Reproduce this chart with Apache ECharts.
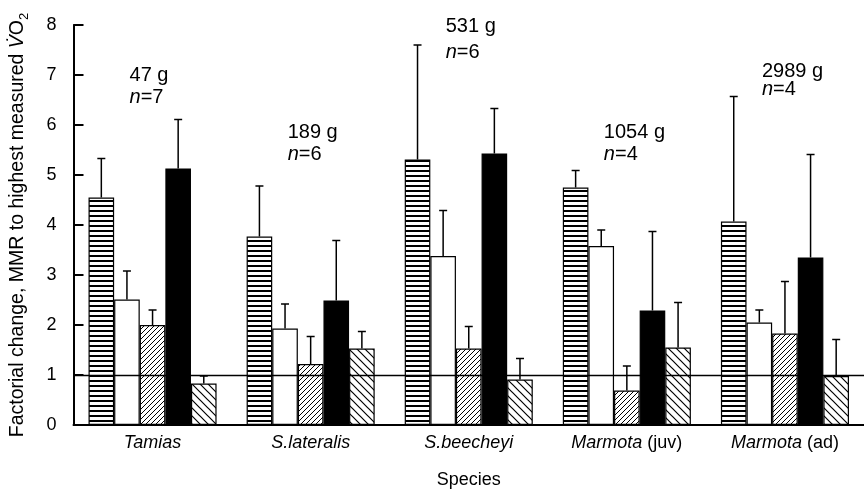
<!DOCTYPE html>
<html><head><meta charset="utf-8">
<script src="https://cdn.jsdelivr.net/npm/echarts@6/dist/echarts.min.js"></script>
<style>html,body{margin:0;padding:0;background:#fff}#c{width:864px;height:496px}</style>
</head><body><div id="c"></div><script>
// ---- data ----
const categories = ['Tamias', 'S.lateralis', 'S.beecheyi', 'Marmota (juv)', 'Marmota (ad)'];
const categoryLabels = ['{i|Tamias}', '{i|S.lateralis}', '{i|S.beecheyi}', '{i|Marmota} (juv)', '{i|Marmota} (ad)'];
const massLabels = ['47 g', '189 g', '531 g', '1054 g', '2989 g'];
const nLabels = ['7', '6', '6', '4', '4'];
const massLabelY = [7.0, 5.85, 7.97, 5.85, 7.08];
const nLabelY = [6.56, 5.42, 7.46, 5.42, 6.72];
const yTicks = [0, 1, 2, 3, 4, 5, 6, 7, 8];

const stripedMean = [4.55, 3.77, 5.31, 4.75, 4.07];
const stripedTop  = [5.33, 4.78, 7.60, 5.09, 6.57];
const whiteMean   = [2.51, 1.93, 3.38, 3.58, 2.05];
const whiteTop    = [3.08, 2.42, 4.29, 3.90, 2.30];
const slashMean   = [2.00, 1.22, 1.53, 0.69, 1.83];
const slashTop    = [2.30, 1.77, 1.97, 1.18, 2.87];
const blackMean   = [5.13, 2.49, 5.43, 2.29, 3.35];
const blackTop    = [6.11, 3.69, 6.33, 3.87, 5.41];
const bslashMean  = [0.83, 1.53, 0.91, 1.55, 0.98];
const bslashTop   = [0.98, 1.87, 1.33, 2.45, 1.71];
const referenceLevel = 1;

// ---- patterns ----
function tile(w, h, draw) {
  const c = document.createElement('canvas');
  c.width = w; c.height = h;
  const g = c.getContext('2d');
  g.fillStyle = '#fff'; g.fillRect(0, 0, w, h);
  draw(g, w, h);
  return { image: c, repeat: 'repeat' };
}
const hStripe = tile(4, 5, (g, w) => { g.fillStyle = '#000'; g.fillRect(0, 0, w, 2); });
const fSlash = tile(5, 5, (g, w, h) => {
  g.strokeStyle = '#000'; g.lineWidth = 1;
  g.beginPath();
  g.moveTo(0, h); g.lineTo(w, 0);
  g.moveTo(-1, 1); g.lineTo(1, -1);
  g.moveTo(w - 1, h + 1); g.lineTo(w + 1, h - 1);
  g.stroke();
});
const bSlash = tile(8, 8, (g, w, h) => {
  g.strokeStyle = '#000'; g.lineWidth = 1.2;
  g.beginPath();
  g.moveTo(0, 0); g.lineTo(w, h);
  g.moveTo(-1, h - 1); g.lineTo(1, h + 1);
  g.moveTo(w - 1, -1); g.lineTo(w + 1, 1);
  g.stroke();
});

const font = 'Liberation Sans';
const GAP = 0.19;
const barDefs = [
  { mean: stripedMean, top: stripedTop, color: hStripe },
  { mean: whiteMean, top: whiteTop, color: '#fff' },
  { mean: slashMean, top: slashTop, color: fSlash },
  { mean: blackMean, top: blackTop, color: '#000' },
  { mean: bslashMean, top: bslashTop, color: bSlash }
];

const series = barDefs.map((d, k) => ({
  type: 'bar',
  data: d.mean,
  barGap: '0%',
  barCategoryGap: (GAP * 100) + '%',
  itemStyle: { color: d.color, borderColor: '#000', borderWidth: 1.2 },
  emphasis: { disabled: true },
  silent: true
}));

const errData = [];
barDefs.forEach((d, k) => d.mean.forEach((m, i) => errData.push([i, m, d.top[i], k])));

series.push({
  type: 'custom',
  data: errData,
  encode: { x: 0, y: 1 },
  z: 5,
  silent: true,
  renderItem(params, api) {
    const cat = api.value(0), val = api.value(1), top = api.value(2), k = api.value(3);
    const c = api.coord([cat, val]);
    const t = api.coord([cat, top]);
    const band = api.size([1, 0])[0];
    const bw = band * (1 - GAP) / 5;
    const x = c[0] + (k - 2) * bw;
    return {
      type: 'group',
      children: [
        { type: 'line', shape: { x1: x, y1: c[1], x2: x, y2: t[1] }, style: { stroke: '#000', lineWidth: 1.5 } },
        { type: 'line', shape: { x1: x - 4, y1: t[1], x2: x + 4, y2: t[1] }, style: { stroke: '#000', lineWidth: 1.5 } }
      ]
    };
  },
  markLine: {
    silent: true, symbol: 'none', z: 10,
    label: { show: false },
    lineStyle: { color: '#000', width: 1.3, type: 'solid' },
    data: [{ yAxis: referenceLevel }]
  }
});

const annFont = 20;
[massLabelY, nLabelY].forEach((ys, row) => {
  series.push({
    type: 'scatter', symbolSize: 0, silent: true, z: 10,
    itemStyle: { color: 'transparent', opacity: 1 },
    data: ys.map((y, i) => [i, y]),
    label: {
      show: true, position: 'inside', align: 'left', verticalAlign: 'middle', offset: [-23, 0],
      formatter: p => row === 0 ? massLabels[p.dataIndex] : '{i|n}=' + nLabels[p.dataIndex],
      fontFamily: font, fontSize: annFont, color: '#000', opacity: 1,
      textBorderWidth: 0,
      rich: { i: { fontFamily: font, fontSize: annFont, fontStyle: 'italic', color: '#000' } }
    }
  });
});

const chart = echarts.init(document.getElementById('c'));
chart.setOption({
  animation: false,
  backgroundColor: '#fff',
  grid: { left: 72, top: 25, width: 795, bottom: 71, containLabel: false },
  xAxis: {
    type: 'category', data: categories,
    axisLine: { lineStyle: { color: '#000', width: 2 } },
    axisTick: { inside: true, length: 7, lineStyle: { color: '#000', width: 2 } },
    axisLabel: {
      interval: 0, margin: 9, color: '#000', fontFamily: font, fontSize: 18,
      formatter: (v, i) => categoryLabels[i],
      rich: { i: { fontFamily: font, fontSize: 18, fontStyle: 'italic', color: '#000' } }
    },
    name: 'Species', nameLocation: 'middle', nameGap: 46,
    nameTextStyle: { color: '#000', fontFamily: font, fontSize: 18 }
  },
  yAxis: {
    type: 'value', min: yTicks[0], max: yTicks[yTicks.length - 1], interval: 1,
    splitLine: { show: false },
    axisLine: { show: true, lineStyle: { color: '#000', width: 2 } },
    axisTick: { show: true, inside: true, length: 10, lineStyle: { color: '#000', width: 2 } },
    axisLabel: { margin: 17, color: '#000', fontFamily: font, fontSize: 18 },
    name: 'Factorial change, MMR to highest measured {v|V\u0307}O{s|2}',
    nameLocation: 'middle', nameGap: 43, nameRotate: 90,
    nameTextStyle: {
      color: '#000', fontFamily: font, fontSize: 19.5,
      rich: {
        v: { fontFamily: font, fontSize: 19.5, fontStyle: 'italic', color: '#000' },
        s: { fontFamily: font, fontSize: 13, color: '#000', verticalAlign: 'bottom', padding: [12, 0, 0, 0] }
      }
    }
  },
  series
});
</script></body></html>
